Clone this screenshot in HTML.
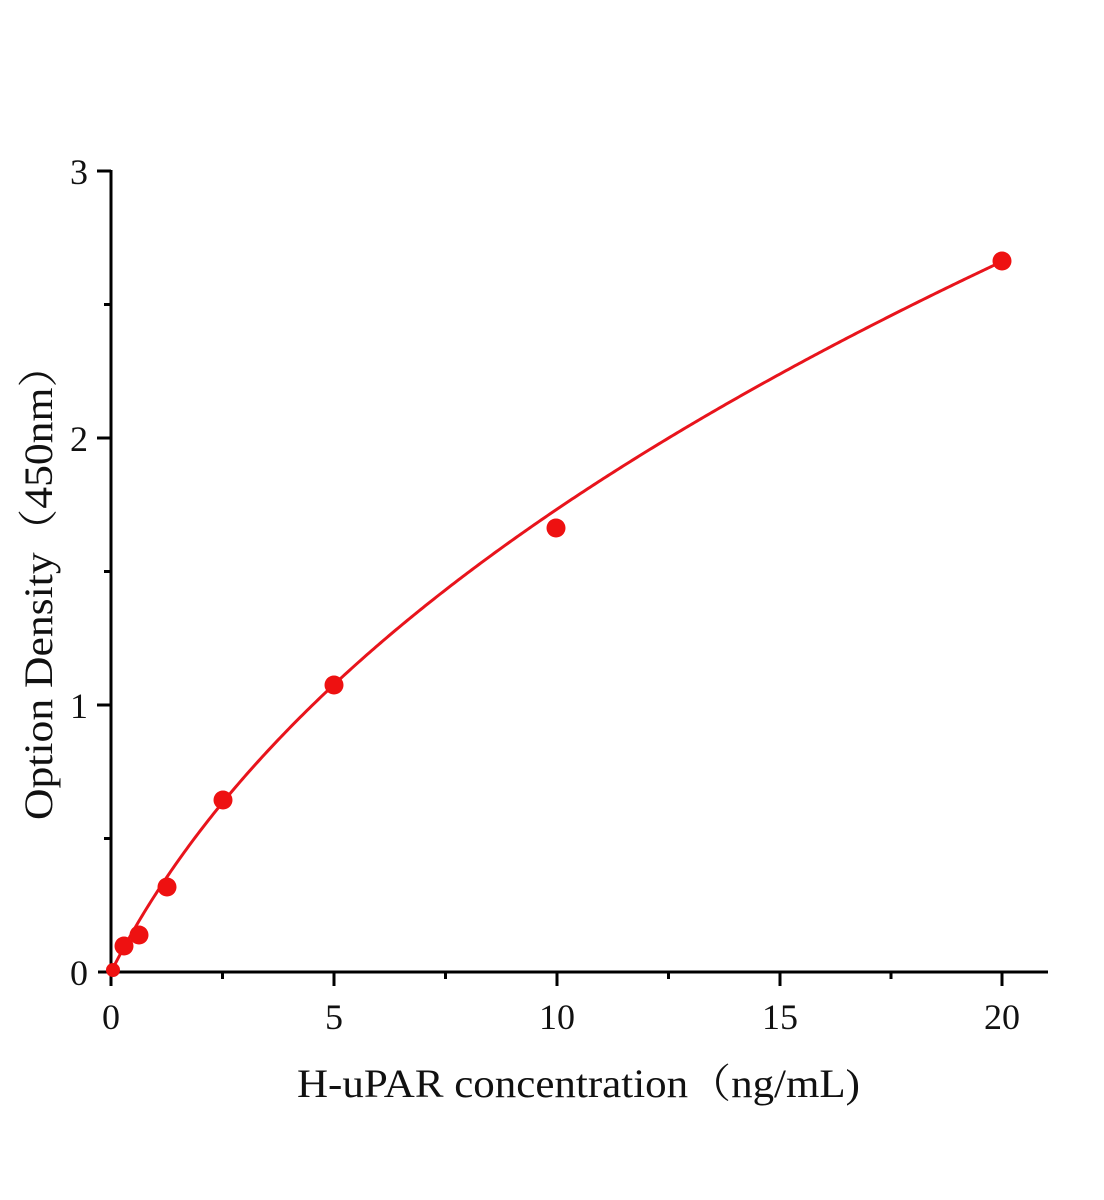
<!DOCTYPE html>
<html><head><meta charset="utf-8"><style>
html,body{margin:0;padding:0;background:#fff;}
svg{display:block;}
text{font-family:"Liberation Serif","Noto Serif CJK SC",serif;fill:#111;}
</style></head><body>
<svg id="s" width="1104" height="1200" viewBox="0 0 1104 1200" xmlns="http://www.w3.org/2000/svg">
<rect width="1104" height="1200" fill="#fff"/>
<g stroke="#000" stroke-width="3" fill="none">
<line x1="111" y1="170" x2="111" y2="974"/>
<line x1="98" y1="972" x2="1048" y2="972"/>
<line x1="97" y1="171" x2="111" y2="171"/>
<line x1="97" y1="438" x2="111" y2="438"/>
<line x1="97" y1="705" x2="111" y2="705"/>
<line x1="104" y1="304.5" x2="111" y2="304.5"/>
<line x1="104" y1="571.5" x2="111" y2="571.5"/>
<line x1="104" y1="838.5" x2="111" y2="838.5"/>
<line x1="111" y1="972" x2="111" y2="986"/>
<line x1="334" y1="972" x2="334" y2="986"/>
<line x1="557" y1="972" x2="557" y2="986"/>
<line x1="780" y1="972" x2="780" y2="986"/>
<line x1="1002" y1="972" x2="1002" y2="986"/>
<line x1="222.5" y1="972" x2="222.5" y2="979"/>
<line x1="445.5" y1="972" x2="445.5" y2="979"/>
<line x1="668.5" y1="972" x2="668.5" y2="979"/>
<line x1="891" y1="972" x2="891" y2="979"/>
</g>
<g font-size="36" text-anchor="end">
<text x="88" y="184">3</text>
<text x="88" y="451">2</text>
<text x="88" y="718">1</text>
<text x="88" y="985">0</text>
</g>
<g font-size="36" text-anchor="middle">
<text x="111" y="1029">0</text>
<text x="334" y="1029">5</text>
<text x="557" y="1029">10</text>
<text x="780" y="1029">15</text>
<text x="1002" y="1029">20</text>
</g>
<text x="297" y="1097" font-size="40" textLength="563" lengthAdjust="spacingAndGlyphs">H-uPAR concentration（ng/mL)</text>
<text transform="translate(52,820) rotate(-90)" x="0" y="0" font-size="40" textLength="476" lengthAdjust="spacingAndGlyphs">Option Density（450nm）</text>
<path id="curve" d="" stroke="#e8141c" stroke-width="3" fill="none"/>
<g fill="#ee1111">
<circle cx="113" cy="970" r="7"/>
<circle cx="124" cy="946" r="9.5"/>
<circle cx="139" cy="935" r="9.5"/>
<circle cx="167" cy="887" r="9.5"/>
<circle cx="223" cy="800" r="9.5"/>
<circle cx="334" cy="685" r="9.5"/>
<circle cx="556" cy="528" r="9.5"/>
<circle cx="1002" cy="261" r="9.5"/>
</g>
</svg>
<script>
function f(x){return 1.253*(Math.pow(x+2,0.4)-Math.pow(2,0.4));}
var s="";
for(var i=0;i<=400;i++){var x=i*20/400;var X=111+x*44.55,Y=972-f(x)*267;s+=(i?" L":"M")+X.toFixed(2)+","+Y.toFixed(2);}
document.getElementById("curve").setAttribute("d",s);
</script>
</body></html>
